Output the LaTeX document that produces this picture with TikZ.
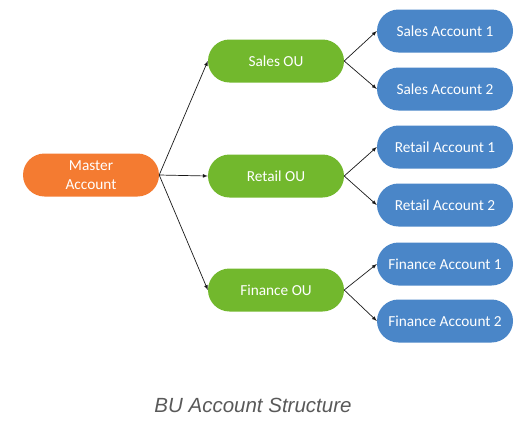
\documentclass[tikz,border=0pt]{standalone}
\usepackage{fontspec}
\setmainfont{Carlito}
\newfontfamily\captionfont{Liberation Sans}
\usetikzlibrary{shapes.misc}
\tikzset{>=latex}
\definecolor{mastercol}{HTML}{F47B31}
\definecolor{oucol}{HTML}{72B82D}
\definecolor{acctcol}{HTML}{4A86C8}
\definecolor{captioncol}{HTML}{595959}
\tikzstyle{box}=[rounded rectangle,minimum width=140pt,minimum height=43pt,
                 inner sep=2pt,text=white,font=\fontsize{15.3}{18.5}\selectfont]
\tikzstyle{master}=[box,fill=mastercol,align=center]
\tikzstyle{ou}=[box,fill=oucol]
\tikzstyle{acct}=[box,fill=acctcol]
\tikzstyle{link}=[->,line width=0.7pt,black!90]

\begin{document}
\begin{tikzpicture}[x=1pt,y=-1pt]
  \useasboundingbox (0,0) rectangle (522,432);

  % ROOT
  \node[master] (master) at (91,175) {Master\\Account};

  % UNITS AND ACCOUNTS
  \foreach \name/\y/\ya/\yb in {Sales/61/31/89,Retail/176/147/205,Finance/290/264/321}{
    \node[ou] (\name) at (276,\y) {\name\ OU};
    \node[acct] (\name1) at (445,\ya) {\name\ Account 1};
    \node[acct] (\name2) at (445,\yb) {\name\ Account 2};
    \draw[link] (master.east) -- (\name.west);
    \draw[link] (\name.east) -- (\name1.west);
    \draw[link] (\name.east) -- (\name2.west);
  }

  \node[captioncol,font=\captionfont\itshape\fontsize{20.5}{24}\selectfont]
    (title) at (253,405) {BU Account Structure};
\end{tikzpicture}
\end{document}
